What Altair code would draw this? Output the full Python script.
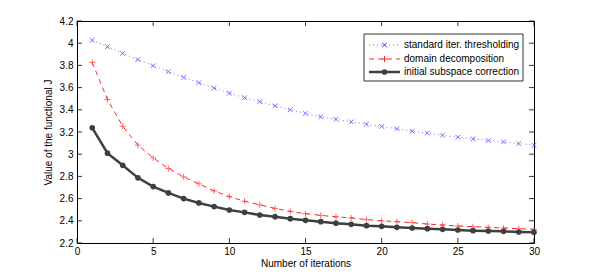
import altair as alt
import pandas as pd

iters = list(range(1, 31))

std_iter = [4.026, 3.969, 3.908, 3.852, 3.797, 3.743, 3.692, 3.644, 3.596, 3.550,
            3.509, 3.473, 3.436, 3.400, 3.368, 3.337, 3.314, 3.292, 3.270, 3.250,
            3.229, 3.207, 3.190, 3.171, 3.153, 3.139, 3.123, 3.111, 3.096, 3.081]
dom_dec = [3.827, 3.493, 3.252, 3.081, 2.967, 2.871, 2.796, 2.733, 2.669, 2.618,
           2.576, 2.543, 2.512, 2.485, 2.464, 2.449, 2.436, 2.426, 2.411, 2.400,
           2.392, 2.383, 2.371, 2.362, 2.353, 2.347, 2.341, 2.335, 2.329, 2.323]
init_sub = [3.238, 3.009, 2.900, 2.787, 2.708, 2.651, 2.600, 2.561, 2.528, 2.497,
            2.476, 2.452, 2.437, 2.419, 2.404, 2.392, 2.379, 2.368, 2.356, 2.350,
            2.341, 2.335, 2.329, 2.323, 2.317, 2.311, 2.308, 2.305, 2.299, 2.296]

series_names = ["standard iter. thresholding", "domain decomposition",
                "initial subspace correction"]

x_ticks = [0, 5, 10, 15, 20, 25, 30]
y_ticks = [2.2, 2.4, 2.6, 2.8, 3.0, 3.2, 3.4, 3.6, 3.8, 4.0, 4.2]

W, H = 457, 222
FONT = "Liberation Sans"

xs = alt.Scale(domain=[0, 30], nice=False)
ys = alt.Scale(domain=[2.2, 4.2], nice=False)

df = pd.DataFrame({"it": iters, "std": std_iter, "dd": dom_dec, "isc": init_sub})

X_PATH = "M-1,-1L1,1M1,-1L-1,1"
P_PATH = "M-1,0L1,0M0,-1L0,1"

BLUE = "#3a3aff"
RED = "#ff2a2a"
DARK = "#3f3f3f"

x_axis = alt.Axis(values=x_ticks, title="Number of iterations", grid=False,
                  ticks=False, domain=False, labelPadding=3,
                  titlePadding=2, format="d", labelOverlap=False,
                  labelFlush=False)
y_axis = alt.Axis(values=y_ticks, title="Value of the functional J", grid=False,
                  ticks=False, domain=False, labelPadding=4, titlePadding=6,
                  labelOverlap=False, labelFlush=False,
                  labelExpr="format(datum.value, '.1~f')")


def X(field):
    return alt.X(field, scale=xs, axis=x_axis)


def Y(field):
    return alt.Y(field, scale=ys, axis=y_axis)


base = alt.Chart(df)

blue_line = base.mark_line(color=BLUE, strokeWidth=1, strokeDash=[1, 3], opacity=0.7).encode(
    x=X("it:Q"), y=Y("std:Q"))
blue_pts = base.mark_point(shape=X_PATH, color=BLUE, size=22, strokeWidth=1, filled=False).encode(
    x=X("it:Q"), y=Y("std:Q"))
red_line = base.mark_line(color=RED, strokeWidth=1, strokeDash=[5, 4]).encode(
    x=X("it:Q"), y=Y("dd:Q"))
red_pts = base.mark_point(shape=P_PATH, color=RED, size=36, strokeWidth=1, filled=False).encode(
    x=X("it:Q"), y=Y("dd:Q"))
blk_line = base.mark_line(color=DARK, strokeWidth=2.5).encode(
    x=X("it:Q"), y=Y("isc:Q"))
blk_pts = base.mark_point(shape="circle", color=DARK, size=32, filled=True, opacity=1).encode(
    x=X("it:Q"), y=Y("isc:Q"))

# inward ticks
xt = pd.DataFrame({"t": x_ticks})
yt = pd.DataFrame({"t": y_ticks})
TL = 5
tick_b = alt.Chart(xt).mark_rule(color="black", strokeWidth=0.8).encode(
    x=X("t:Q"), y=alt.value(H), y2=alt.value(H - TL))
tick_t = alt.Chart(xt).mark_rule(color="black", strokeWidth=0.8).encode(
    x=X("t:Q"), y=alt.value(0), y2=alt.value(TL))
tick_l = alt.Chart(yt).mark_rule(color="black", strokeWidth=0.8).encode(
    y=Y("t:Q"), x=alt.value(0), x2=alt.value(TL))
tick_r = alt.Chart(yt).mark_rule(color="black", strokeWidth=0.8).encode(
    y=Y("t:Q"), x=alt.value(W), x2=alt.value(W - TL))

# legend
LX0, LX1, LY0, LY1 = 287, 446, 13, 60
leg_df = pd.DataFrame({"name": series_names})
legend_box = alt.Chart(leg_df.head(1)).mark_rect(fill="white", stroke="black", strokeWidth=0.8).encode(
    x=alt.value(LX0), x2=alt.value(LX1), y=alt.value(LY0), y2=alt.value(LY1))

rows = [24, 38, 51]
SX0, SX1, TX = 292, 323, 327
styles = [
    dict(color=BLUE, dash=[1, 3], width=1, shape=X_PATH, size=22, filled=False, op=0.7),
    dict(color=RED, dash=[5, 4], width=1, shape=P_PATH, size=36, filled=False, op=1),
    dict(color=DARK, dash=[1, 0], width=2.5, shape="circle", size=32, filled=True, op=1),
]
legend_layers = [legend_box]
for i, (nm, st) in enumerate(zip(series_names, styles)):
    d = pd.DataFrame({"name": [nm]})
    c = alt.Chart(d)
    legend_layers.append(c.mark_rule(color=st["color"], strokeWidth=st["width"],
                                     strokeDash=st["dash"], opacity=st["op"]).encode(
        x=alt.value(SX0), x2=alt.value(SX1), y=alt.value(rows[i])))
    legend_layers.append(c.mark_point(shape=st["shape"], color=st["color"], size=st["size"],
                                      filled=st["filled"], strokeWidth=1, opacity=1).encode(
        x=alt.value((SX0 + SX1) / 2), y=alt.value(rows[i])))
    legend_layers.append(c.mark_text(align="left", baseline="middle", font=FONT,
                                     fontSize=10, color="black").encode(
        x=alt.value(TX), y=alt.value(rows[i]), text="name:N"))

chart = alt.layer(
    blue_line, blue_pts, red_line, red_pts, blk_line, blk_pts,
    tick_b, tick_t, tick_l, tick_r, *legend_layers
).properties(
    width=W, height=H,
    autosize=alt.AutoSizeParams(type="none"),
    padding={"left": 69, "top": 13, "right": 47, "bottom": 28},
).configure_view(
    stroke="black", strokeWidth=1
).configure_axis(
    labelFont=FONT, titleFont=FONT, labelFontSize=10, titleFontSize=10,
    titleFontWeight="normal", labelColor="black", titleColor="black",
    labelOverlap=False, labelFlush=False
)

chart.save("out.html", embed_options={"renderer": "svg", "actions": False})
